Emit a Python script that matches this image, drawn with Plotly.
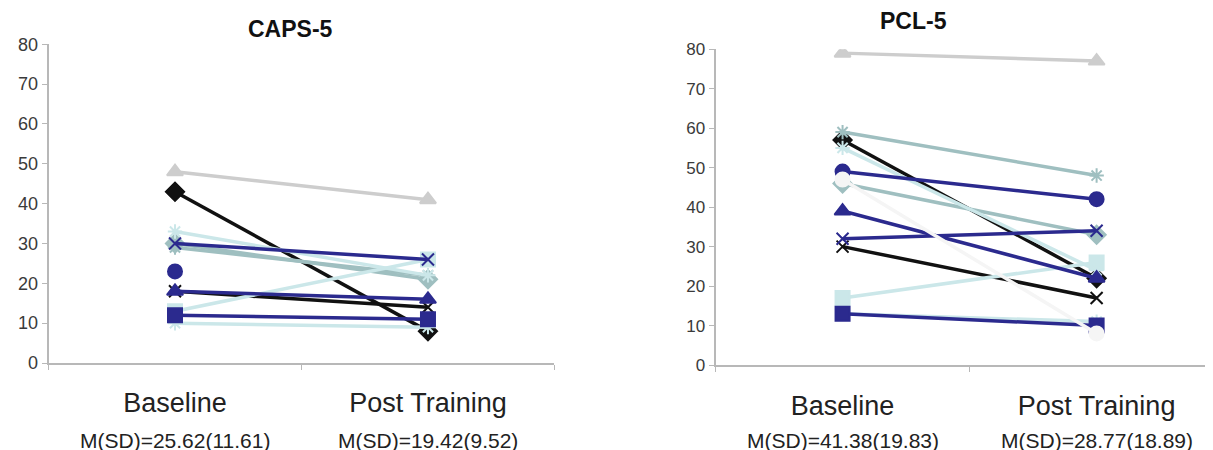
import plotly.graph_objects as go

# ---- data ----
timepoints = ["Baseline", "Post Training"]
caps_msd = ["M(SD)=25.62(11.61)", "M(SD)=19.42(9.52)"]
pcl_msd = ["M(SD)=41.38(19.83)", "M(SD)=28.77(18.89)"]
chart_titles = ["CAPS-5", "PCL-5"]
y_ticks = [0, 10, 20, 30, 40, 50, 60, 70, 80]

# participant series: [baseline, post]
caps_p1 = [43, 8]
caps_p2 = [18, 14]
caps_p3 = [48, 41]
caps_p4 = [29, 22]
caps_p5 = [30, 21]
caps_p6 = [13, 26]
caps_p7 = [10, 9]
caps_p8 = [33, 22]
caps_p9 = [23, None]
caps_p10 = [18, 16]
caps_p11 = [12, 11]
caps_p12 = [30, 26]
caps_p13 = [None, None]

pcl_p1 = [57, 22]
pcl_p2 = [30, 17]
pcl_p3 = [79, 77]
pcl_p4 = [59, 48]
pcl_p5 = [46, 33]
pcl_p6 = [17, 26]
pcl_p7 = [13, 11]
pcl_p8 = [55, 24]
pcl_p9 = [49, 42]
pcl_p10 = [39, 22]
pcl_p11 = [13, 10]
pcl_p12 = [32, 34]
pcl_p13 = [47, 8]

caps_series = [caps_p1, caps_p2, caps_p3, caps_p4, caps_p5, caps_p6, caps_p7,
               caps_p8, caps_p9, caps_p10, caps_p11, caps_p12, caps_p13]
pcl_series = [pcl_p1, pcl_p2, pcl_p3, pcl_p4, pcl_p5, pcl_p6, pcl_p7,
              pcl_p8, pcl_p9, pcl_p10, pcl_p11, pcl_p12, pcl_p13]

NAVY = "#2B2A8E"
BLACK = "#111111"
LGRAY = "#CDCDCD"
GTEAL = "#9FBFC0"
LTEAL = "#CBE7E9"
WHITE = "#F5F5F5"
styles = [
    (BLACK, "diamond"),
    (BLACK, "x-thin-open"),
    (LGRAY, "triangle-up"),
    (GTEAL, "asterisk-open"),
    (GTEAL, "diamond"),
    (LTEAL, "square"),
    (LTEAL, "asterisk-open"),
    (LTEAL, "asterisk-open"),
    (NAVY, "circle"),
    (NAVY, "triangle-up"),
    (NAVY, "square"),
    (NAVY, "x-thin-open"),
    (WHITE, "circle"),
]

fig = go.Figure()
for axis_id, series_list in (("", caps_series), ("2", pcl_series)):
    for (color, sym), vals in zip(styles, series_list):
        open_sym = sym.endswith("open")
        fig.add_trace(go.Scatter(
            x=timepoints, y=vals, mode="lines+markers",
            line=dict(color=color, width=3.5),
            marker=dict(symbol=sym, size=14 if not open_sym else 12, color=color,
                        line=dict(color=color, width=2)),
            xaxis="x" + axis_id, yaxis="y" + axis_id,
            showlegend=False, hoverinfo="skip",
        ))

axis_common = dict(showgrid=False, zeroline=False, showline=True,
                   linecolor="#B8B8B8", linewidth=2, ticks="outside",
                   tickcolor="#B8B8B8", ticklen=5, tickwidth=1)

fig.update_layout(
    width=1213, height=450,
    margin=dict(l=0, r=0, t=0, b=0),
    paper_bgcolor="white", plot_bgcolor="white",
    font=dict(family="Liberation Sans, Arial, sans-serif", color="#222222"),
    xaxis=dict(domain=[0.0334, 0.4505], type="category", range=[-0.5, 1.5],
               tickson="boundaries", ticklabelstandoff=15,
               tickfont=dict(size=27, color="#222222"),
               anchor="y", **axis_common),
    yaxis=dict(domain=[0.1976, 0.939], range=[0, 80], tickvals=y_ticks,
               tickfont=dict(size=18, color="#3A3A3A"), anchor="x",
               **axis_common),
    xaxis2=dict(domain=[0.5833, 0.9938], type="category", range=[-0.5, 1.46],
                tickson="boundaries", ticklabelstandoff=16,
                tickfont=dict(size=27, color="#222222"),
                anchor="y2", **axis_common),
    yaxis2=dict(domain=[0.1929, 0.9275], range=[0, 80], tickvals=y_ticks,
                tickfont=dict(size=17, color="#3A3A3A"), anchor="x2",
                **axis_common),
)

annotations = [
    dict(text="<b>" + chart_titles[0] + "</b>", x=282.5 / 1213, y=1 - 11 / 450,
         xref="paper", yref="paper", xanchor="center", yanchor="middle",
         showarrow=False, font=dict(size=23, color="#111111")),
    dict(text="<b>" + chart_titles[1] + "</b>", x=905.5 / 1213, y=1 - 3 / 450,
         xref="paper", yref="paper", xanchor="center", yanchor="middle",
         showarrow=False, font=dict(size=23, color="#111111")),
]
for i, t in enumerate(caps_msd):
    annotations.append(dict(text=t, x=timepoints[i], xref="x", y=1 - 442 / 450,
                            yref="paper", xanchor="center", yanchor="middle",
                            showarrow=False, font=dict(size=21, color="#222222")))
for i, t in enumerate(pcl_msd):
    annotations.append(dict(text=t, x=timepoints[i], xref="x2", y=1 - 442 / 450,
                            yref="paper", xanchor="center", yanchor="middle",
                            showarrow=False, font=dict(size=21, color="#222222")))
fig.update_layout(annotations=annotations)

fig.write_html("out.html")
